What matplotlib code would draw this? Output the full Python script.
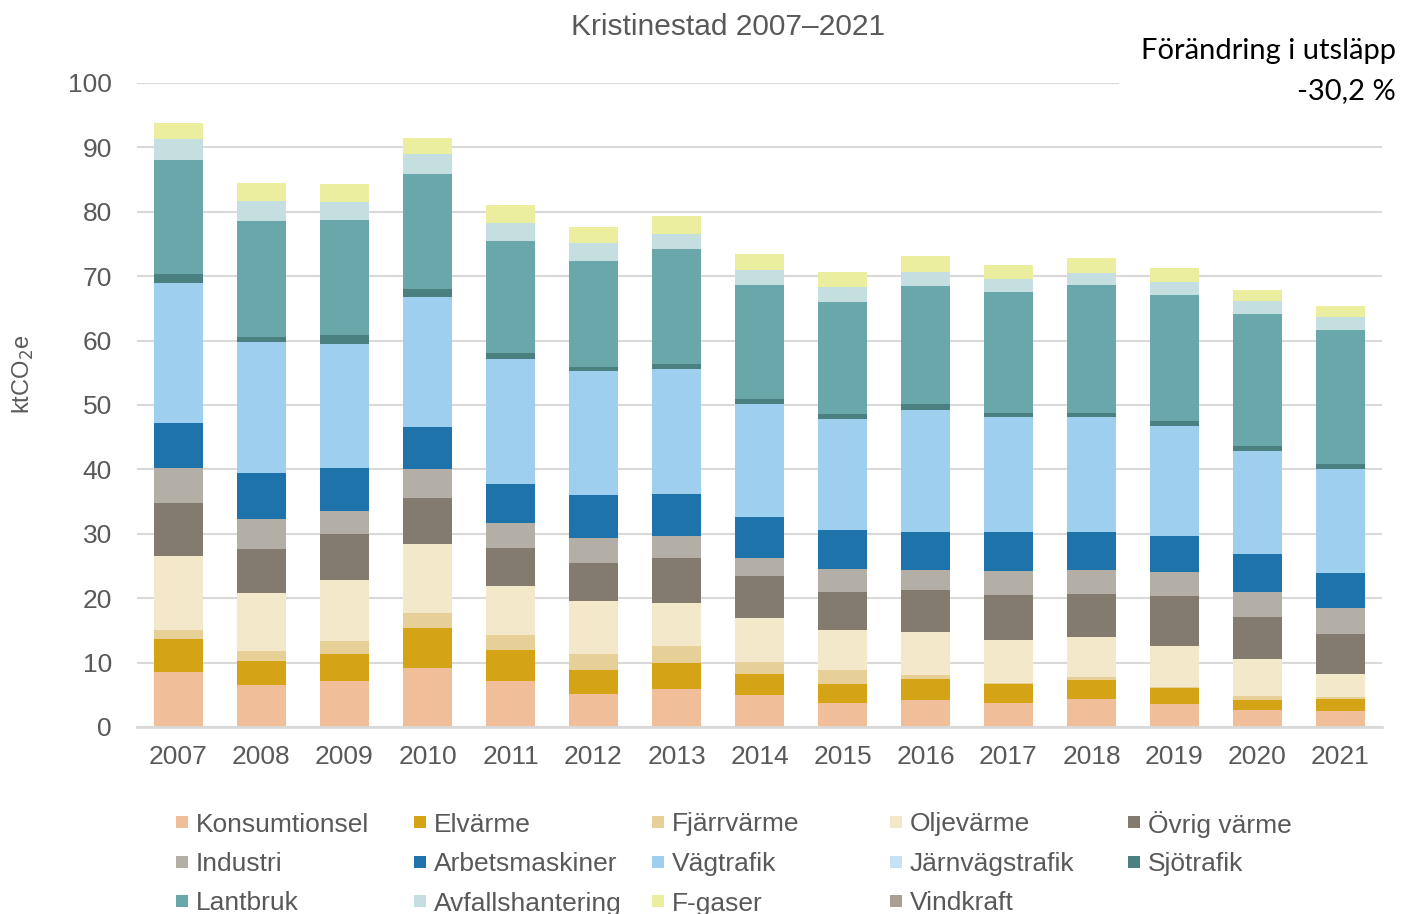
import numpy as np
import matplotlib.pyplot as plt
from matplotlib.patches import Rectangle

plt.rcParams['font.family'] = ['Liberation Sans', 'DejaVu Sans']

years = ['2007', '2008', '2009', '2010', '2011', '2012', '2013', '2014',
         '2015', '2016', '2017', '2018', '2019', '2020', '2021']

# ktCO2e per sektor och år
konsumtionsel = [8.5, 6.5, 7.2, 9.2, 7.2, 5.2, 5.9, 5.0, 3.8, 4.2, 3.8, 4.3, 3.5, 2.6, 2.5]
elvarme = [5.1, 3.8, 4.2, 6.2, 4.8, 3.7, 4.1, 3.3, 2.8, 3.3, 2.8, 3.0, 2.5, 1.6, 1.9]
fjarrvarme = [1.5, 1.5, 1.9, 2.3, 2.3, 2.4, 2.5, 1.8, 2.2, 0.6, 0.2, 0.4, 0.2, 0.6, 0.3]
oljevarme = [11.5, 9.0, 9.6, 10.7, 7.6, 8.3, 6.8, 6.9, 6.2, 6.6, 6.7, 6.2, 6.3, 5.7, 3.6]
ovrig_varme = [8.2, 6.9, 7.0, 7.2, 5.9, 5.9, 6.9, 6.4, 6.0, 6.6, 7.0, 6.8, 7.8, 6.6, 6.1]
industri = [5.4, 4.6, 3.7, 4.4, 3.8, 3.9, 3.5, 2.9, 3.6, 3.1, 3.7, 3.7, 3.7, 3.9, 4.0]
arbetsmaskiner = [7.0, 7.1, 6.6, 6.6, 6.1, 6.7, 6.5, 6.3, 6.0, 5.9, 6.1, 5.9, 5.6, 5.8, 5.5]
vagtrafik = [21.7, 20.4, 19.3, 20.1, 19.5, 19.2, 19.4, 17.5, 17.2, 19.0, 17.9, 17.9, 17.1, 16.0, 16.1]
jarnvagstrafik = [0.0] * 15
sjotrafik = [1.5, 0.8, 1.4, 1.3, 0.9, 0.6, 0.8, 0.8, 0.8, 0.8, 0.6, 0.6, 0.8, 0.8, 0.8]
lantbruk = [17.6, 17.9, 17.8, 17.9, 17.4, 16.5, 17.8, 17.7, 17.4, 18.3, 18.7, 19.8, 19.6, 20.6, 20.9]
avfall = [3.3, 3.1, 2.8, 3.0, 2.7, 2.7, 2.4, 2.3, 2.3, 2.3, 2.1, 1.9, 2.0, 1.9, 2.0]
f_gaser = [2.5, 2.8, 2.8, 2.5, 2.8, 2.5, 2.7, 2.6, 2.4, 2.4, 2.2, 2.3, 2.1, 1.8, 1.6]
vindkraft = [0.0] * 15

labels = ['Konsumtionsel', 'Elvärme', 'Fjärrvärme', 'Oljevärme', 'Övrig värme',
          'Industri', 'Arbetsmaskiner', 'Vägtrafik', 'Järnvägstrafik', 'Sjötrafik',
          'Lantbruk', 'Avfallshantering', 'F-gaser', 'Vindkraft']
series = [konsumtionsel, elvarme, fjarrvarme, oljevarme, ovrig_varme,
          industri, arbetsmaskiner, vagtrafik, jarnvagstrafik, sjotrafik,
          lantbruk, avfall, f_gaser, vindkraft]
colors = ['#F0BF9A', '#D5A416', '#E7CF98', '#F3E8CA', '#837B6E',
          '#B3AEA6', '#1D73AA', '#9FCFEE', '#C5E2F5', '#4A8080',
          '#69A7AA', '#C5DEE0', '#EBEE9E', '#A8A091']

gray = '#595959'

fig = plt.figure(figsize=(14.03, 9.14), dpi=100)
ax = fig.add_axes([0.0976, 0.2046, 0.8874, 0.7046])

x = np.arange(len(years))
bottom = np.zeros(len(years))
for vals, col in zip(series, colors):
    ax.bar(x, vals, width=0.6, bottom=bottom, color=col, zorder=3)
    bottom += np.array(vals)

ax.set_xlim(-0.5, len(years) - 0.5)
ax.set_ylim(0, 100)
ax.set_yticks(range(0, 101, 10))
ax.set_xticks(x)
ax.set_xticklabels(years)
ax.tick_params(axis='both', length=0, labelsize=19, colors=gray)
ax.tick_params(axis='x', pad=13)
ax.tick_params(axis='y', pad=18)
ax.grid(axis='y', color='#D9D9D9', linewidth=1.5, zorder=0)
for s in ['top', 'right', 'left']:
    ax.spines[s].set_visible(False)
ax.spines['bottom'].set_color('#D9D9D9')
ax.spines['bottom'].set_linewidth(2)
ax.spines['bottom'].set_zorder(4)

ax.set_ylabel('ktCO$_2$e', fontsize=17, color=gray)
ax.yaxis.set_label_coords(-0.081, 0.547)

fig.text(728 / 1403, 1 - 27 / 914, 'Kristinestad 2007–2021', ha='center', va='center',
         fontsize=21.5, color=gray)

fig.text(1396 / 1403, 1 - 38 / 914, 'Förändring i utsläpp\n-30,2 %', ha='right', va='top',
         fontsize=21, color='black', family=['Lato', 'DejaVu Sans'], linespacing=1.65,
         bbox=dict(facecolor='white', edgecolor='none', pad=16))

# legend laid out row by row like the original
for i, (lab, col) in enumerate(zip(labels, colors)):
    row, c = divmod(i, 5)
    xl = (176 + 238 * c) / 1403
    yl = 1 - (822 + 39.5 * row) / 914
    fig.patches.append(Rectangle((xl, yl - 6 / 914), 12 / 1403, 12 / 914,
                                 transform=fig.transFigure, facecolor=col, edgecolor='none'))
    fig.text(xl + 20 / 1403, yl, lab, ha='left', va='center_baseline', fontsize=19, color=gray)

fig.savefig('out.png', dpi=100)
plt.close(fig)
